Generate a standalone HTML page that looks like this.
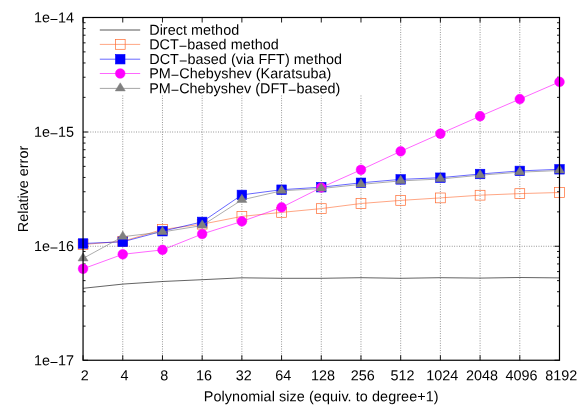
<!DOCTYPE html><html><head><meta charset="utf-8"><style>html,body{margin:0;padding:0;background:#fff}svg{display:block}text{font-family:"Liberation Sans",sans-serif;font-size:14.4px;fill:#000;text-rendering:geometricPrecision}</style></head><body>
<svg width="581" height="407" viewBox="0 0 581 407">
<rect width="581" height="407" fill="#fff"/>
<path d="M122.75 95.50V360.25M162.46 95.50V360.25M202.16 95.50V360.25M241.87 95.50V360.25M281.57 95.50V360.25M321.27 95.50V360.25M360.98 95.50V360.25M400.68 17.50V360.25M440.39 17.50V360.25M480.09 17.50V360.25M519.80 17.50V360.25M83.05 132.00H559.50M83.05 246.25H559.50" stroke="#000" stroke-opacity="0.7" stroke-width="0.65" stroke-dasharray="0.9 1.51" fill="none"/>
<path d="M83.05 17.50h5.00M559.50 17.50h-5.00M83.05 97.36h2.50M559.50 97.36h-2.50M83.05 77.24h2.50M559.50 77.24h-2.50M83.05 62.96h2.50M559.50 62.96h-2.50M83.05 51.89h2.50M559.50 51.89h-2.50M83.05 42.85h2.50M559.50 42.85h-2.50M83.05 35.20h2.50M559.50 35.20h-2.50M83.05 28.57h2.50M559.50 28.57h-2.50M83.05 22.73h2.50M559.50 22.73h-2.50M83.05 132.00h5.00M559.50 132.00h-5.00M83.05 211.86h2.50M559.50 211.86h-2.50M83.05 191.74h2.50M559.50 191.74h-2.50M83.05 177.46h2.50M559.50 177.46h-2.50M83.05 166.39h2.50M559.50 166.39h-2.50M83.05 157.35h2.50M559.50 157.35h-2.50M83.05 149.70h2.50M559.50 149.70h-2.50M83.05 143.07h2.50M559.50 143.07h-2.50M83.05 137.23h2.50M559.50 137.23h-2.50M83.05 246.25h5.00M559.50 246.25h-5.00M83.05 326.11h2.50M559.50 326.11h-2.50M83.05 305.99h2.50M559.50 305.99h-2.50M83.05 291.71h2.50M559.50 291.71h-2.50M83.05 280.64h2.50M559.50 280.64h-2.50M83.05 271.60h2.50M559.50 271.60h-2.50M83.05 263.95h2.50M559.50 263.95h-2.50M83.05 257.32h2.50M559.50 257.32h-2.50M83.05 251.48h2.50M559.50 251.48h-2.50M83.05 360.25h5.00M559.50 360.25h-5.00M83.05 360.25v-5.00M83.05 17.50v5.00M122.75 360.25v-5.00M122.75 17.50v5.00M162.46 360.25v-5.00M162.46 17.50v5.00M202.16 360.25v-5.00M202.16 17.50v5.00M241.87 360.25v-5.00M241.87 17.50v5.00M281.57 360.25v-5.00M281.57 17.50v5.00M321.27 360.25v-5.00M321.27 17.50v5.00M360.98 360.25v-5.00M360.98 17.50v5.00M400.68 360.25v-5.00M400.68 17.50v5.00M440.39 360.25v-5.00M440.39 17.50v5.00M480.09 360.25v-5.00M480.09 17.50v5.00M519.80 360.25v-5.00M519.80 17.50v5.00M559.50 360.25v-5.00M559.50 17.50v5.00" stroke="#000" stroke-width="0.9" fill="none"/>
<polyline points="83.05,288.30 122.75,284.10 162.46,281.50 202.16,279.70 241.87,277.80 281.57,278.30 321.27,278.30 360.98,277.70 400.68,278.30 440.39,277.70 480.09,278.10 519.80,277.50 559.50,277.90" fill="none" stroke="#101010" stroke-width="0.65"/>
<polyline points="83.05,244.50 122.75,241.30 162.46,229.50 202.16,224.20 241.87,216.40 281.57,212.40 321.27,208.60 360.98,203.50 400.68,200.40 440.39,197.90 480.09,195.20 519.80,193.60 559.50,192.50" fill="none" stroke="#ff6a30" stroke-width="0.6"/>
<rect x="78.15" y="239.60" width="9.80" height="9.80" fill="none" stroke="#ff6a30" stroke-width="0.7"/>
<rect x="117.85" y="236.40" width="9.80" height="9.80" fill="none" stroke="#ff6a30" stroke-width="0.7"/>
<rect x="157.56" y="224.60" width="9.80" height="9.80" fill="none" stroke="#ff6a30" stroke-width="0.7"/>
<rect x="197.26" y="219.30" width="9.80" height="9.80" fill="none" stroke="#ff6a30" stroke-width="0.7"/>
<rect x="236.97" y="211.50" width="9.80" height="9.80" fill="none" stroke="#ff6a30" stroke-width="0.7"/>
<rect x="276.67" y="207.50" width="9.80" height="9.80" fill="none" stroke="#ff6a30" stroke-width="0.7"/>
<rect x="316.38" y="203.70" width="9.80" height="9.80" fill="none" stroke="#ff6a30" stroke-width="0.7"/>
<rect x="356.08" y="198.60" width="9.80" height="9.80" fill="none" stroke="#ff6a30" stroke-width="0.7"/>
<rect x="395.78" y="195.50" width="9.80" height="9.80" fill="none" stroke="#ff6a30" stroke-width="0.7"/>
<rect x="435.49" y="193.00" width="9.80" height="9.80" fill="none" stroke="#ff6a30" stroke-width="0.7"/>
<rect x="475.19" y="190.30" width="9.80" height="9.80" fill="none" stroke="#ff6a30" stroke-width="0.7"/>
<rect x="514.90" y="188.70" width="9.80" height="9.80" fill="none" stroke="#ff6a30" stroke-width="0.7"/>
<rect x="554.60" y="187.60" width="9.80" height="9.80" fill="none" stroke="#ff6a30" stroke-width="0.7"/>
<polyline points="83.05,243.50 122.75,241.80 162.46,231.20 202.16,221.90 241.87,194.90 281.57,189.70 321.27,187.20 360.98,182.80 400.68,179.40 440.39,177.70 480.09,174.00 519.80,170.90 559.50,169.30" fill="none" stroke="#0000ff" stroke-width="0.6"/>
<rect x="78.30" y="238.75" width="9.50" height="9.50" fill="#0000ff" stroke="#0000ff" stroke-width="0.6"/>
<rect x="118.00" y="237.05" width="9.50" height="9.50" fill="#0000ff" stroke="#0000ff" stroke-width="0.6"/>
<rect x="157.71" y="226.45" width="9.50" height="9.50" fill="#0000ff" stroke="#0000ff" stroke-width="0.6"/>
<rect x="197.41" y="217.15" width="9.50" height="9.50" fill="#0000ff" stroke="#0000ff" stroke-width="0.6"/>
<rect x="237.12" y="190.15" width="9.50" height="9.50" fill="#0000ff" stroke="#0000ff" stroke-width="0.6"/>
<rect x="276.82" y="184.95" width="9.50" height="9.50" fill="#0000ff" stroke="#0000ff" stroke-width="0.6"/>
<rect x="316.52" y="182.45" width="9.50" height="9.50" fill="#0000ff" stroke="#0000ff" stroke-width="0.6"/>
<rect x="356.23" y="178.05" width="9.50" height="9.50" fill="#0000ff" stroke="#0000ff" stroke-width="0.6"/>
<rect x="395.93" y="174.65" width="9.50" height="9.50" fill="#0000ff" stroke="#0000ff" stroke-width="0.6"/>
<rect x="435.64" y="172.95" width="9.50" height="9.50" fill="#0000ff" stroke="#0000ff" stroke-width="0.6"/>
<rect x="475.34" y="169.25" width="9.50" height="9.50" fill="#0000ff" stroke="#0000ff" stroke-width="0.6"/>
<rect x="515.05" y="166.15" width="9.50" height="9.50" fill="#0000ff" stroke="#0000ff" stroke-width="0.6"/>
<rect x="554.75" y="164.55" width="9.50" height="9.50" fill="#0000ff" stroke="#0000ff" stroke-width="0.6"/>
<polyline points="83.05,268.80 122.75,254.30 162.46,249.90 202.16,234.00 241.87,221.40 281.57,207.40 321.27,187.50 360.98,169.80 400.68,151.30 440.39,133.70 480.09,116.20 519.80,99.10 559.50,81.90" fill="none" stroke="#ff00ff" stroke-width="0.6"/>
<circle cx="83.05" cy="268.80" r="4.85" fill="#ff00ff" stroke="#ff00ff" stroke-width="0.5"/>
<circle cx="122.75" cy="254.30" r="4.85" fill="#ff00ff" stroke="#ff00ff" stroke-width="0.5"/>
<circle cx="162.46" cy="249.90" r="4.85" fill="#ff00ff" stroke="#ff00ff" stroke-width="0.5"/>
<circle cx="202.16" cy="234.00" r="4.85" fill="#ff00ff" stroke="#ff00ff" stroke-width="0.5"/>
<circle cx="241.87" cy="221.40" r="4.85" fill="#ff00ff" stroke="#ff00ff" stroke-width="0.5"/>
<circle cx="281.57" cy="207.40" r="4.85" fill="#ff00ff" stroke="#ff00ff" stroke-width="0.5"/>
<circle cx="321.27" cy="187.50" r="4.85" fill="#ff00ff" stroke="#ff00ff" stroke-width="0.5"/>
<circle cx="360.98" cy="169.80" r="4.85" fill="#ff00ff" stroke="#ff00ff" stroke-width="0.5"/>
<circle cx="400.68" cy="151.30" r="4.85" fill="#ff00ff" stroke="#ff00ff" stroke-width="0.5"/>
<circle cx="440.39" cy="133.70" r="4.85" fill="#ff00ff" stroke="#ff00ff" stroke-width="0.5"/>
<circle cx="480.09" cy="116.20" r="4.85" fill="#ff00ff" stroke="#ff00ff" stroke-width="0.5"/>
<circle cx="519.80" cy="99.10" r="4.85" fill="#ff00ff" stroke="#ff00ff" stroke-width="0.5"/>
<circle cx="559.50" cy="81.90" r="4.85" fill="#ff00ff" stroke="#ff00ff" stroke-width="0.5"/>
<polyline points="83.05,258.40 122.75,236.70 162.46,232.00 202.16,225.50 241.87,199.90 281.57,190.80 321.27,188.50 360.98,184.40 400.68,180.90 440.39,179.00 480.09,175.20 519.80,172.20 559.50,170.50" fill="none" stroke="#808080" stroke-width="0.65"/>
<path d="M83.05 252.80L78.05 260.90L88.05 260.90Z" fill="#808080" stroke="#808080" stroke-width="0.5"/>
<path d="M122.75 231.10L117.75 239.20L127.75 239.20Z" fill="#808080" stroke="#808080" stroke-width="0.5"/>
<path d="M162.46 226.40L157.46 234.50L167.46 234.50Z" fill="#808080" stroke="#808080" stroke-width="0.5"/>
<path d="M202.16 219.90L197.16 228.00L207.16 228.00Z" fill="#808080" stroke="#808080" stroke-width="0.5"/>
<path d="M241.87 194.30L236.87 202.40L246.87 202.40Z" fill="#808080" stroke="#808080" stroke-width="0.5"/>
<path d="M281.57 185.20L276.57 193.30L286.57 193.30Z" fill="#808080" stroke="#808080" stroke-width="0.5"/>
<path d="M321.27 182.90L316.27 191.00L326.27 191.00Z" fill="#808080" stroke="#808080" stroke-width="0.5"/>
<path d="M360.98 178.80L355.98 186.90L365.98 186.90Z" fill="#808080" stroke="#808080" stroke-width="0.5"/>
<path d="M400.68 175.30L395.68 183.40L405.68 183.40Z" fill="#808080" stroke="#808080" stroke-width="0.5"/>
<path d="M440.39 173.40L435.39 181.50L445.39 181.50Z" fill="#808080" stroke="#808080" stroke-width="0.5"/>
<path d="M480.09 169.60L475.09 177.70L485.09 177.70Z" fill="#808080" stroke="#808080" stroke-width="0.5"/>
<path d="M519.80 166.60L514.80 174.70L524.80 174.70Z" fill="#808080" stroke="#808080" stroke-width="0.5"/>
<path d="M559.50 164.90L554.50 173.00L564.50 173.00Z" fill="#808080" stroke="#808080" stroke-width="0.5"/>
<path d="M99.8 30.00H140.2" stroke="#101010" stroke-width="0.7" fill="none"/>
<path d="M99.8 44.40H140.2" stroke="#ff6a30" stroke-width="0.6" fill="none"/>
<rect x="115.35" y="39.50" width="9.80" height="9.80" fill="none" stroke="#ff6a30" stroke-width="0.7"/>
<path d="M99.8 59.20H140.2" stroke="#0000ff" stroke-width="0.6" fill="none"/>
<rect x="115.50" y="54.45" width="9.50" height="9.50" fill="#0000ff" stroke="#0000ff" stroke-width="0.6"/>
<path d="M99.8 73.50H140.2" stroke="#ff00ff" stroke-width="0.6" fill="none"/>
<circle cx="120.25" cy="73.50" r="4.85" fill="#ff00ff" stroke="#ff00ff" stroke-width="0.5"/>
<path d="M99.8 88.40H140.2" stroke="#808080" stroke-width="0.7" fill="none"/>
<path d="M120.25 82.80L115.25 90.90L125.25 90.90Z" fill="#808080" stroke="#808080" stroke-width="0.5"/>
<rect x="83.05" y="17.50" width="476.45" height="342.75" fill="none" stroke="#000" stroke-width="1.2"/>
<g opacity="0.999">
<text x="149.2" y="34.75" textLength="90.0" transform="rotate(0.03 149.2 34.75)">Direct method</text>
<text x="149.2" y="49.15" textLength="129.6" transform="rotate(0.03 149.2 49.15)">DCT<tspan dy="1.8">−</tspan><tspan dy="-1.8">b</tspan>ased method</text>
<text x="149.2" y="63.95" textLength="192.9" transform="rotate(0.03 149.2 63.95)">DCT<tspan dy="1.8">−</tspan><tspan dy="-1.8">b</tspan>ased (via FFT) method</text>
<text x="149.2" y="78.25" textLength="182.2" transform="rotate(0.03 149.2 78.25)">PM<tspan dy="1.8">−</tspan><tspan dy="-1.8">C</tspan>hebyshev (Karatsuba)</text>
<text x="149.2" y="93.15" textLength="191.2" transform="rotate(0.03 149.2 93.15)">PM<tspan dy="1.8">−</tspan><tspan dy="-1.8">C</tspan>hebyshev (DFT<tspan dy="1.8">−</tspan><tspan dy="-1.8">b</tspan>ased)</text>
<text x="74" y="22.40" text-anchor="end" textLength="40" transform="rotate(0.03 74 22.40)">1e<tspan dy="1.8">−</tspan><tspan dy="-1.8">1</tspan>4</text>
<text x="74" y="136.73" text-anchor="end" textLength="40" transform="rotate(0.03 74 136.73)">1e<tspan dy="1.8">−</tspan><tspan dy="-1.8">1</tspan>5</text>
<text x="74" y="251.06" text-anchor="end" textLength="40" transform="rotate(0.03 74 251.06)">1e<tspan dy="1.8">−</tspan><tspan dy="-1.8">1</tspan>6</text>
<text x="74" y="365.39" text-anchor="end" textLength="40" transform="rotate(0.03 74 365.39)">1e<tspan dy="1.8">−</tspan><tspan dy="-1.8">1</tspan>7</text>
<text x="84.85" y="380.2" text-anchor="middle" transform="rotate(0.03 84.85 380.2)">2</text>
<text x="124.55" y="380.2" text-anchor="middle" transform="rotate(0.03 124.55 380.2)">4</text>
<text x="164.26" y="380.2" text-anchor="middle" transform="rotate(0.03 164.26 380.2)">8</text>
<text x="203.96" y="380.2" text-anchor="middle" transform="rotate(0.03 203.96 380.2)">16</text>
<text x="243.67" y="380.2" text-anchor="middle" transform="rotate(0.03 243.67 380.2)">32</text>
<text x="283.37" y="380.2" text-anchor="middle" transform="rotate(0.03 283.37 380.2)">64</text>
<text x="323.07" y="380.2" text-anchor="middle" transform="rotate(0.03 323.07 380.2)">128</text>
<text x="362.78" y="380.2" text-anchor="middle" transform="rotate(0.03 362.78 380.2)">256</text>
<text x="402.48" y="380.2" text-anchor="middle" transform="rotate(0.03 402.48 380.2)">512</text>
<text x="442.19" y="380.2" text-anchor="middle" transform="rotate(0.03 442.19 380.2)">1024</text>
<text x="481.89" y="380.2" text-anchor="middle" transform="rotate(0.03 481.89 380.2)">2048</text>
<text x="521.60" y="380.2" text-anchor="middle" transform="rotate(0.03 521.60 380.2)">4096</text>
<text x="561.30" y="380.2" text-anchor="middle" transform="rotate(0.03 561.30 380.2)">8192</text>
<text x="321.2" y="401.2" text-anchor="middle" textLength="234.8" transform="rotate(0.03 321.2 401.2)">Polynomial size (equiv. to degree+1)</text>
<text transform="translate(27.5,189) rotate(-90)" text-anchor="middle" textLength="86.4">Relative error</text>
</g>
</svg></body></html>
